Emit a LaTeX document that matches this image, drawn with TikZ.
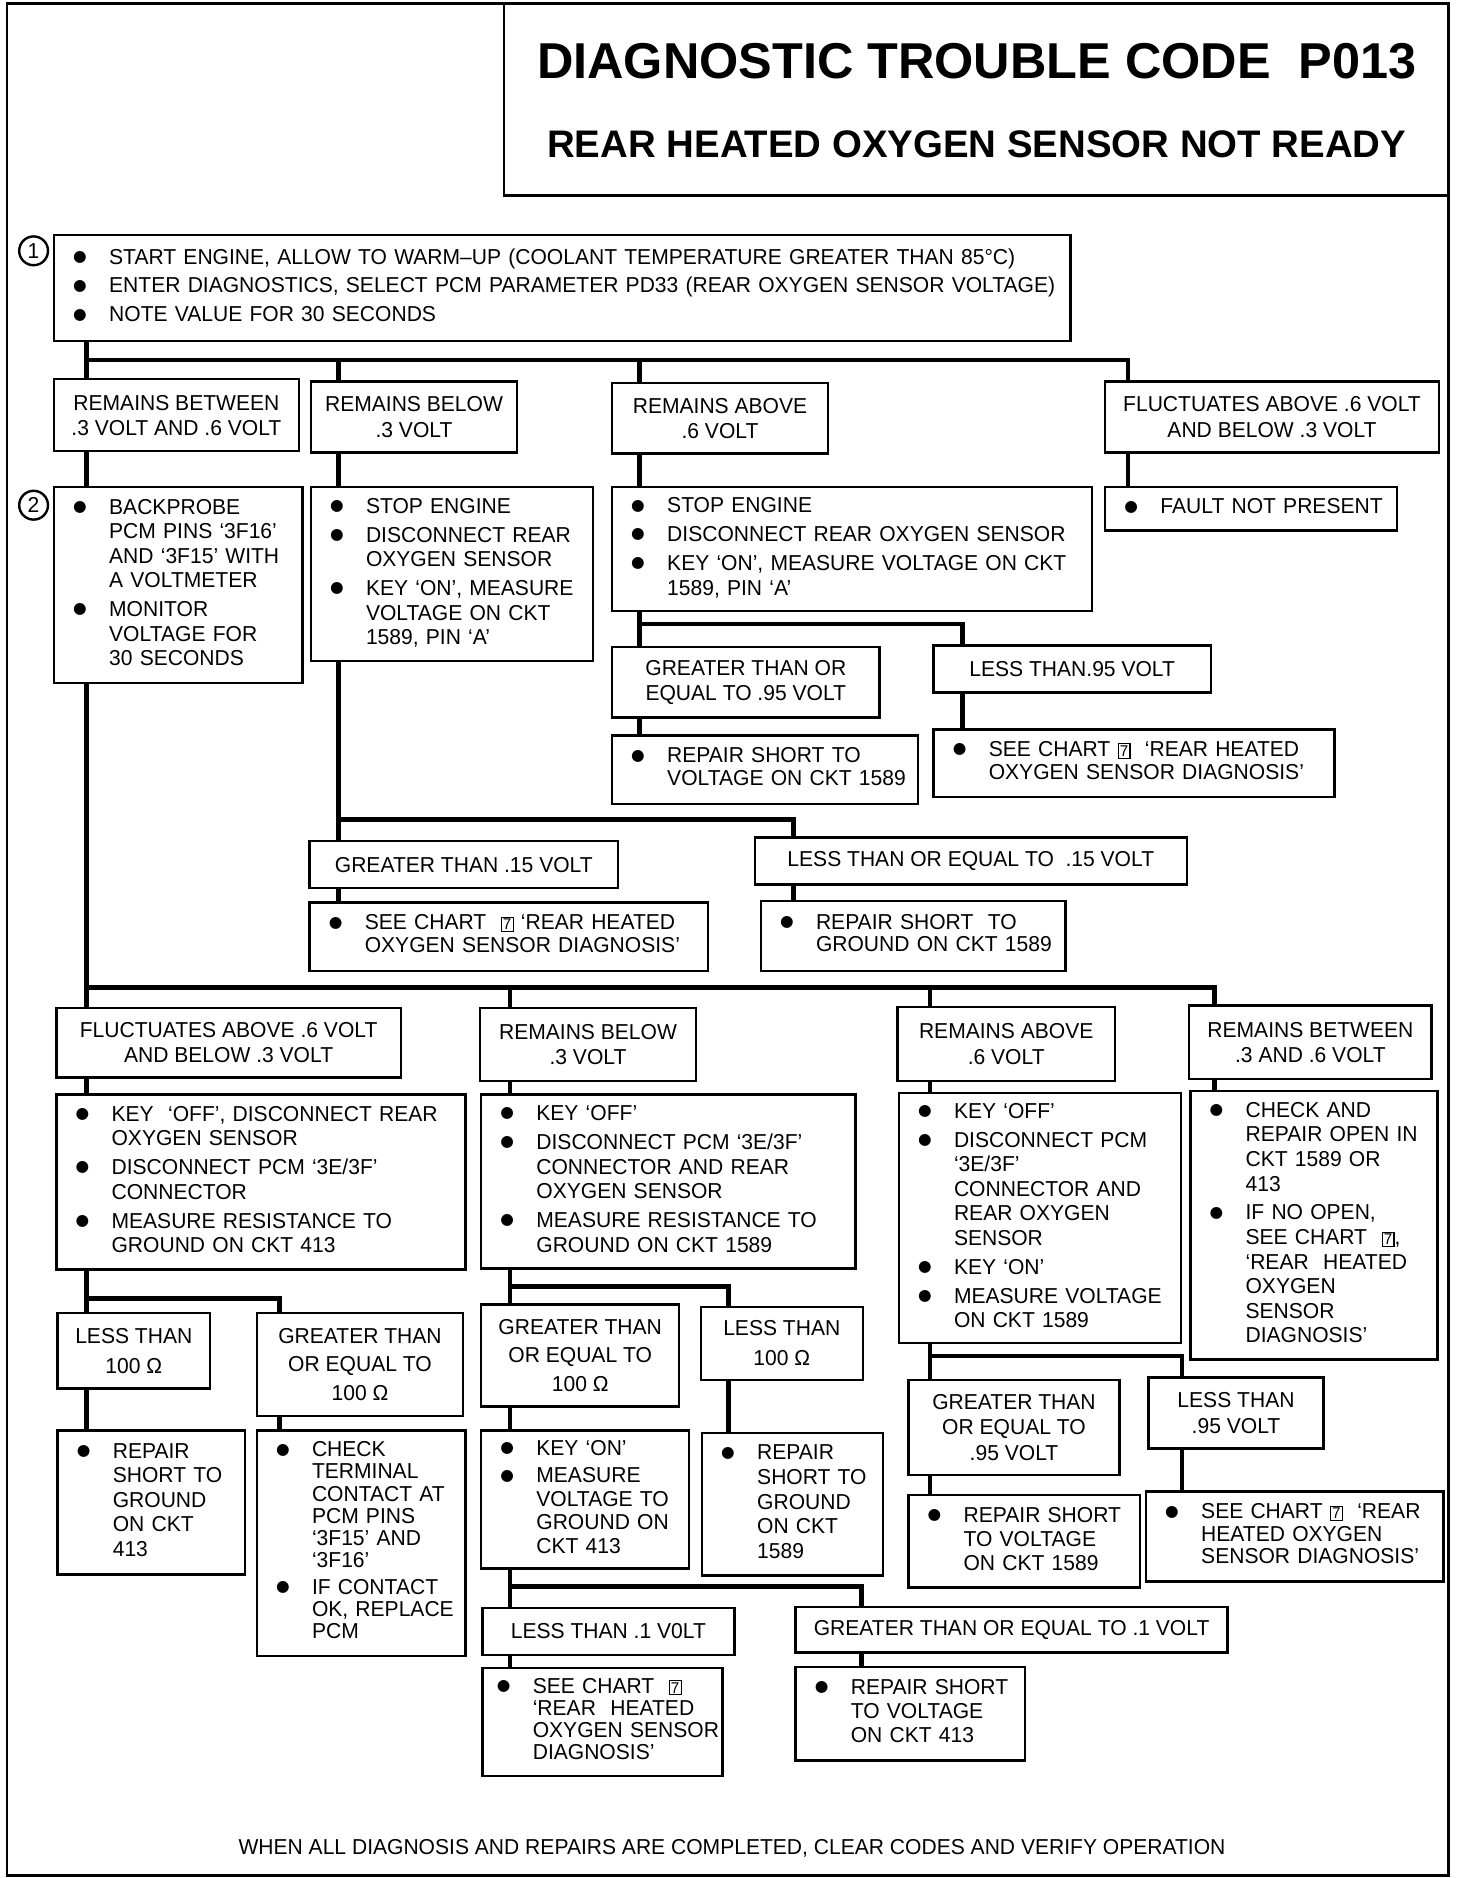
\documentclass[tikz,border=0pt]{standalone}
\usepackage{fontspec}
\setmainfont{Liberation Sans}[FakeStretch=0.975]
\newfontfamily\ttlfont{Liberation Sans}
\newfontfamily\symfont{DejaVu Sans}
\usepackage{tikz}
\tikzset{lbl/.style={draw, line width=1pt, anchor=north west, align=center, inner sep=2pt, font=\fontsize{9}{10.5}\selectfont},
         act/.style={draw, line width=1pt, anchor=north west, align=left, inner xsep=8pt, inner ysep=2pt, font=\fontsize{9}{10.25}\selectfont},
         wire/.style={line width=2pt},
         frame/.style={line width=1pt},
         stepno/.style={circle, draw, line width=1pt, minimum size=12pt, inner sep=0pt, font=\fontsize{9}{9}\selectfont}
}
\newcommand{\bu}{\makebox[15pt][l]{\raisebox{1.1pt}{\symfont\fontsize{6.5}{6.5}\selectfont ●}}}
\newcommand{\nx}{\\[1.75pt]}
\newcommand{\blist}[1]{\noindent\begin{tabular}{@{}l@{}l@{}}#1\end{tabular}}
\newcommand{\chartref}{{\setlength{\fboxsep}{0.5pt}\setlength{\fboxrule}{0.45pt}\fbox{\fontsize{6.5}{6.5}\selectfont 7}}}

\begin{document}
\begin{tikzpicture}[x=0.5pt,y=-0.5pt]
  \useasboundingbox (0,0) rectangle (1227,1565);
  % frame and title
  \draw[frame] (6,3) rectangle (1207,1563);
  \draw[frame] (420,3) |- (1207,163);
  \node[font=\ttlfont\fontsize{21}{24}\selectfont\bfseries] (ttl) at (814,51) {DIAGNOSTIC TROUBLE CODE\ \ P013};
  \node[font=\ttlfont\fontsize{16}{19}\selectfont\bfseries] (sub) at (814,120) {REAR HEATED OXYGEN SENSOR NOT READY};

  % step 1
  \node[stepno] (c1) at (28,209) {1};
  \node[act, text width=407.5pt, minimum height=44pt] (A) at (44,195)
     {\blist{\bu & START ENGINE, ALLOW TO WARM--UP (COOLANT TEMPERATURE GREATER THAN 85°C)\nx
             \bu & ENTER DIAGNOSTICS, SELECT PCM PARAMETER PD33 (REAR OXYGEN SENSOR VOLTAGE)\nx
             \bu & NOTE VALUE FOR 30 SECONDS}};

  \node[lbl, minimum width=102pt, minimum height=30pt] (R1) at (44,315) {REMAINS BETWEEN\\.3 VOLT AND .6 VOLT};
  \node[lbl, minimum width=86pt, minimum height=29.5pt] (R2) at (258,317) {REMAINS BELOW\\.3 VOLT};
  \node[lbl, minimum width=90pt, minimum height=29.5pt] (R3) at (509,318) {REMAINS ABOVE\\.6 VOLT};
  \node[lbl, minimum width=139pt, minimum height=29.5pt] (R4) at (920,317) {FLUCTUATES ABOVE .6 VOLT\\AND BELOW .3 VOLT};

  % step 2
  \node[stepno] (c2) at (28,421) {2};
  \node[act, text width=87.5pt, minimum height=81.5pt] (S2) at (44,405)
     {\blist{\bu & BACKPROBE\\ & PCM PINS `3F16'\\ & AND `3F15' WITH\\ & A VOLTMETER\nx
             \bu & MONITOR\\ & VOLTAGE FOR\\ & 30 SECONDS}};
  \node[act, text width=101.5pt, minimum height=72.5pt] (S3) at (258,405)
     {\blist{\bu & STOP ENGINE\nx
             \bu & DISCONNECT REAR\\ & OXYGEN SENSOR\nx
             \bu & KEY `ON', MEASURE\\ & VOLTAGE ON CKT\\ & 1589, PIN `A'}};
  \node[act, text width=184pt, minimum height=51.5pt] (S4) at (509,405)
     {\blist{\bu & STOP ENGINE\nx
             \bu & DISCONNECT REAR OXYGEN SENSOR\nx
             \bu & KEY `ON', MEASURE VOLTAGE ON CKT\\ & 1589, PIN `A'}};
  \node[act, text width=105.5pt, minimum height=18pt] (S5) at (920,405)
     {\blist{\bu & FAULT NOT PRESENT}};

  % above .6 volt
  \node[lbl, minimum width=111.5pt, minimum height=29.5pt] (G95) at (509,538) {GREATER THAN OR\\EQUAL TO .95 VOLT};
  \node[lbl, minimum width=115.5pt, minimum height=19.5pt] (L95) at (777,537) {LESS THAN.95 VOLT};
  \node[act, text width=111.5pt, minimum height=28.5pt, font=\fontsize{9}{9.5}\selectfont] (RV1589) at (509,612)
     {\blist{\bu & REPAIR SHORT TO\\ & VOLTAGE ON CKT 1589}};
  \node[act, text width=151pt, minimum height=28pt, font=\fontsize{9}{9.5}\selectfont] (SC1) at (777,607)
     {\blist{\bu & SEE CHART \chartref\ \ `REAR HEATED\\ & OXYGEN SENSOR DIAGNOSIS'}};

  % below .3 volt
  \node[lbl, minimum width=128.5pt, minimum height=19.5pt] (G15) at (257,700) {GREATER THAN .15 VOLT};
  \node[lbl, minimum width=180pt, minimum height=19.5pt] (L15) at (628,697) {LESS THAN OR EQUAL TO\ \ .15 VOLT};
  \node[act, text width=150pt, minimum height=28.5pt, font=\fontsize{9}{9.5}\selectfont] (SC2) at (257,751)
     {\blist{\bu & SEE CHART\ \ \chartref\ `REAR HEATED\\ & OXYGEN SENSOR DIAGNOSIS'}};
  \node[act, text width=111pt, minimum height=29pt, font=\fontsize{9}{9.5}\selectfont] (RG1589) at (633,750)
     {\blist{\bu & REPAIR SHORT\ \ TO\\ & GROUND ON CKT 1589}};

  % result of step 2
  \node[lbl, minimum width=143.5pt, minimum height=29pt] (F) at (46,839) {FLUCTUATES ABOVE .6 VOLT\\AND BELOW .3 VOLT};
  \node[lbl, minimum width=90pt, minimum height=30.5pt] (B) at (399,839) {REMAINS BELOW\\.3 VOLT};
  \node[lbl, minimum width=90.5pt, minimum height=31pt] (Ab) at (747,838) {REMAINS ABOVE\\.6 VOLT};
  \node[lbl, minimum width=101pt, minimum height=30.5pt] (Bt) at (990,837) {REMAINS BETWEEN\\.3 AND .6 VOLT};

  \node[act, text width=154.5pt, minimum height=73pt] (Fa) at (46,911)
     {\blist{\bu & KEY\ \ `OFF', DISCONNECT REAR\\ & OXYGEN SENSOR\nx
             \bu & DISCONNECT PCM `3E/3F'\\ & CONNECTOR\nx
             \bu & MEASURE RESISTANCE TO\\ & GROUND ON CKT 413}};
  \node[act, text width=140pt, minimum height=72.5pt] (Ba) at (400,911)
     {\blist{\bu & KEY `OFF'\nx
             \bu & DISCONNECT PCM `3E/3F'\\ & CONNECTOR AND REAR\\ & OXYGEN SENSOR\nx
             \bu & MEASURE RESISTANCE TO\\ & GROUND ON CKT 1589}};
  \node[act, text width=101.5pt, minimum height=104pt] (Aa) at (748,910)
     {\blist{\bu & KEY `OFF'\nx
             \bu & DISCONNECT PCM\\ & `3E/3F'\\ & CONNECTOR AND\\ & REAR OXYGEN\\ & SENSOR\nx
             \bu & KEY `ON'\nx
             \bu & MEASURE VOLTAGE\\ & ON CKT 1589}};
  \node[act, text width=87pt, minimum height=112pt] (Bta) at (991,908)
     {\blist{\bu & CHECK AND\\ & REPAIR OPEN IN\\ & CKT 1589 OR\\ & 413\nx
             \bu & IF NO OPEN,\\ & SEE CHART\ \ \chartref,\\ & `REAR\ \ HEATED\\ & OXYGEN\\ & SENSOR\\ & DIAGNOSIS'}};

  % resistance, ckt 413
  \node[lbl, minimum width=63.5pt, minimum height=31.5pt, font=\fontsize{9}{12.5}\selectfont] (L100a) at (47,1093) {LESS THAN\\100 Ω};
  \node[lbl, minimum width=86pt, minimum height=43pt, font=\fontsize{9}{12}\selectfont] (G100a) at (213,1093) {GREATER THAN\\OR EQUAL TO\\100 Ω};
  \node[act, text width=62pt, minimum height=60pt] (RGa) at (47,1191)
     {\blist{\bu & REPAIR\\ & SHORT TO\\ & GROUND\\ & ON CKT\\ & 413}};
  \node[act, text width=71pt, minimum height=94pt, font=\fontsize{9}{9.25}\selectfont] (CTa) at (213,1191)
     {\blist{\bu & CHECK\\ & TERMINAL\\ & CONTACT AT\\ & PCM PINS\\ & `3F15' AND\\ & `3F16'\nx
             \bu & IF CONTACT\\ & OK, REPLACE\\ & PCM}};

  % resistance, ckt 1589
  \node[lbl, minimum width=82.5pt, minimum height=42.5pt, font=\fontsize{9}{12}\selectfont] (G100b) at (400,1086) {GREATER THAN\\OR EQUAL TO\\100 Ω};
  \node[lbl, minimum width=67.5pt, minimum height=30.5pt, font=\fontsize{9}{12.5}\selectfont] (L100b) at (583,1088) {LESS THAN\\100 Ω};
  \node[act, text width=70.5pt, minimum height=57.5pt, font=\fontsize{9}{9.75}\selectfont] (KOb) at (400,1191)
     {\blist{\bu & KEY `ON'\nx
             \bu & MEASURE\\ & VOLTAGE TO\\ & GROUND ON\\ & CKT 413}};
  \node[act, text width=59.5pt, minimum height=59.5pt] (RGb) at (584,1193)
     {\blist{\bu & REPAIR\\ & SHORT TO\\ & GROUND\\ & ON CKT\\ & 1589}};

  \node[lbl, minimum width=105pt, minimum height=19.5pt] (L1) at (401,1339) {LESS THAN .1 V0LT};
  \node[lbl, minimum width=180pt, minimum height=19pt] (G1) at (662,1338) {GREATER THAN OR EQUAL TO .1 VOLT};
  \node[act, text width=88pt, inner xsep=6pt, minimum height=45pt, font=\fontsize{9}{9.25}\selectfont] (SC3) at (401,1389)
     {\blist{\bu & SEE CHART\ \ \chartref\\ & `REAR\ \ HEATED\\ & OXYGEN SENSOR\\ & DIAGNOSIS'}};
  \node[act, text width=79.5pt, minimum height=39pt, font=\fontsize{9}{10}\selectfont] (RV413) at (662,1388)
     {\blist{\bu & REPAIR SHORT\\ & TO VOLTAGE\\ & ON CKT 413}};

  % voltage, ckt 1589
  \node[lbl, minimum width=88pt, minimum height=39.5pt] (G95b) at (756,1149) {GREATER THAN\\OR EQUAL TO\\.95 VOLT};
  \node[lbl, minimum width=73pt, minimum height=29.5pt] (L95b) at (956,1147) {LESS THAN\\.95 VOLT};
  \node[act, text width=80.5pt, minimum height=38.5pt, font=\fontsize{9}{10}\selectfont] (RV1589b) at (756,1245)
     {\blist{\bu & REPAIR SHORT\\ & TO VOLTAGE\\ & ON CKT 1589}};
  \node[act, text width=108pt, minimum height=37.5pt, font=\fontsize{9}{9.25}\selectfont] (SC4) at (954,1242)
     {\blist{\bu & SEE CHART \chartref\ \ `REAR\\ & HEATED OXYGEN\\ & SENSOR DIAGNOSIS'}};

  \node[font=\fontsize{9}{10}\selectfont] (foot) at (610,1540) {WHEN ALL DIAGNOSIS AND REPAIRS ARE COMPLETED, CLEAR CODES AND VERIFY OPERATION};

  % connectors
  \coordinate (j1) at (72,300);  \coordinate (j2) at (282,300);
  \coordinate (j3) at (533,300); \coordinate (j4) at (940,300);
  \draw[wire] (A.south -| j1) -- (R1.north -| j1);
  \draw[wire] (j1) -- (j4) -- (R4.north -| j4);
  \draw[wire] (j2) -- (R2.north -| j2);
  \draw[wire] (j3) -- (R3.north -| j3);
  \draw[wire] (R1.south -| j1) -- (S2.north -| j1);
  \draw[wire] (R2.south -| j2) -- (S3.north -| j2);
  \draw[wire] (R3.south -| j3) -- (S4.north -| j3);
  \draw[wire] (R4.south -| j4) -- (S5.north -| j4);

  \coordinate (k1) at (533,520); \coordinate (k2) at (802,520);
  \draw[wire] (S4.south -| k1) -- (G95.north -| k1);
  \draw[wire] (k1) -- (k2) -- (L95.north -| k2);
  \draw[wire] (G95.south -| k1) -- (RV1589.north -| k1);
  \draw[wire] (L95.south -| k2) -- (SC1.north -| k2);

  \coordinate (m1) at (282,683); \coordinate (m2) at (661,683);
  \draw[wire] (S3.south -| m1) -- (G15.north -| m1);
  \draw[wire] (m1) -- (m2) -- (L15.north -| m2);
  \draw[wire] (G15.south -| m1) -- (SC2.north -| m1);
  \draw[wire] (L15.south -| m2) -- (RG1589.north -| m2);

  \coordinate (n1) at (72,823);  \coordinate (n2) at (425,823);
  \coordinate (n3) at (775,823); \coordinate (n4) at (1012,823);
  \draw[wire] (S2.south -| n1) -- (F.north -| n1);
  \draw[wire] (n1) -- (n4) -- (Bt.north -| n4);
  \draw[wire] (n2) -- (B.north -| n2);
  \draw[wire] (n3) -- (Ab.north -| n3);
  \draw[wire] (F.south -| n1) -- (Fa.north -| n1);
  \draw[wire] (B.south -| n2) -- (Ba.north -| n2);
  \draw[wire] (Ab.south -| n3) -- (Aa.north -| n3);
  \draw[wire] (Bt.south -| n4) -- (Bta.north -| n4);

  \coordinate (p1) at (72,1082); \coordinate (p2) at (233,1082);
  \draw[wire] (Fa.south -| p1) -- (L100a.north -| p1);
  \draw[wire] (p1) -- (p2) -- (G100a.north -| p2);
  \draw[wire] (L100a.south -| p1) -- (RGa.north -| p1);
  \draw[wire] (G100a.south -| p2) -- (CTa.north -| p2);

  \coordinate (q1) at (425,1072); \coordinate (q2) at (607,1072);
  \draw[wire] (Ba.south -| q1) -- (G100b.north -| q1);
  \draw[wire] (q1) -- (q2) -- (L100b.north -| q2);
  \draw[wire] (G100b.south -| q1) -- (KOb.north -| q1);
  \draw[wire] (L100b.south -| q2) -- (RGb.north -| q2);

  \coordinate (s1) at (425,1322); \coordinate (s2) at (718,1322);
  \draw[wire] (KOb.south -| s1) -- (L1.north -| s1);
  \draw[wire] (s1) -- (s2) -- (G1.north -| s2);
  \draw[wire] (L1.south -| s1) -- (SC3.north -| s1);
  \draw[wire] (G1.south -| s2) -- (RV413.north -| s2);

  \coordinate (r1) at (775,1130); \coordinate (r2) at (985,1130);
  \draw[wire] (Aa.south -| r1) -- (G95b.north -| r1);
  \draw[wire] (r1) -- (r2) -- (L95b.north -| r2);
  \draw[wire] (G95b.south -| r1) -- (RV1589b.north -| r1);
  \draw[wire] (L95b.south -| r2) -- (SC4.north -| r2);
\end{tikzpicture}
\end{document}
